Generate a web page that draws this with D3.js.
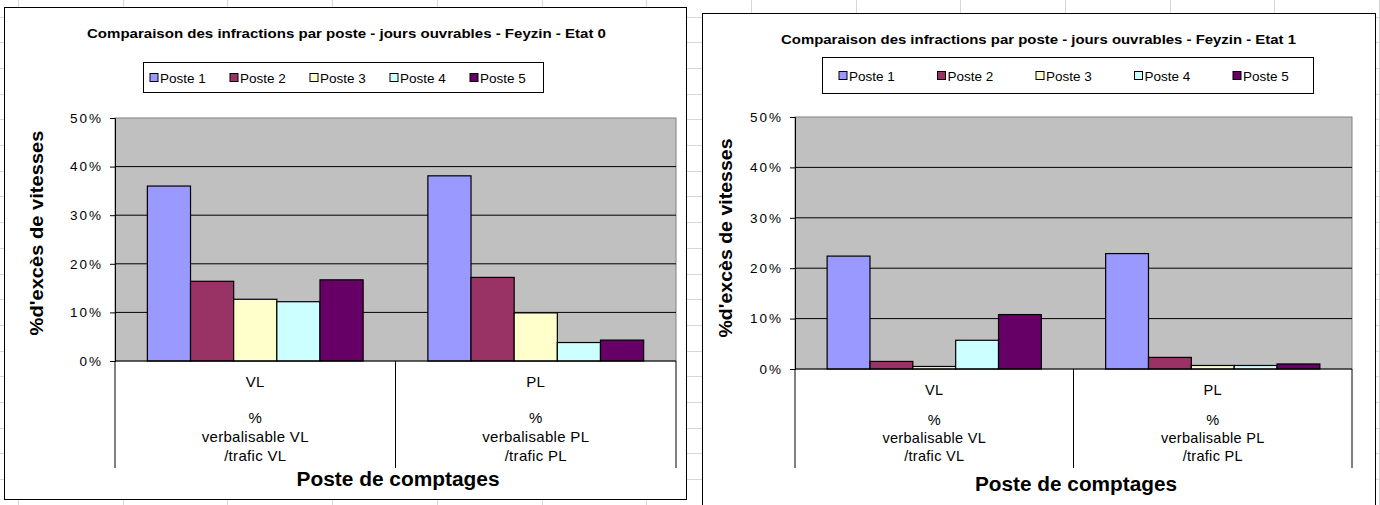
<!DOCTYPE html>
<html>
<head>
<meta charset="utf-8">
<script src="https://cdn.jsdelivr.net/npm/d3@7"></script>
<style>
  body { margin: 0; background: #fff; }
  svg { display: block; }
  text { font-family: Arial, "Liberation Sans", sans-serif; fill: #000; }
</style>
</head>
<body>
<svg id="sheet" width="1380" height="505"></svg>
<script>
// ---- data ----
const series = ["Poste 1", "Poste 2", "Poste 3", "Poste 4", "Poste 5"];
const categories = ["VL", "PL"];
const categoryNotes = [
  ["%", "verbalisable VL", "/trafic VL"],
  ["%", "verbalisable PL", "/trafic PL"]
];
const yTicks = [0, 10, 20, 30, 40, 50];
const titles = [
  "Comparaison des infractions par poste - jours ouvrables - Feyzin - Etat 0",
  "Comparaison des infractions par poste - jours ouvrables - Feyzin - Etat 1"
];
const yTitle = "%d'excès de vitesses";
const xTitle = "Poste de comptages";

// share of speeding vehicles (%) per counting post
const etat0VL = [36.0, 16.4, 12.7, 12.2, 16.7];
const etat0PL = [38.1, 17.2, 9.9, 3.8, 4.3];
const etat1VL = [22.4, 1.5, 0.5, 5.7, 10.8];
const etat1PL = [22.9, 2.3, 0.7, 0.7, 1.0];

const colors = ["#9999FF", "#993366", "#FFFFCC", "#CCFFFF", "#660066"];

// ---- layout of the two chart objects on the sheet ----
const layouts = [
  {
    title: titles[0], data: [etat0VL, etat0PL],
    frame: { x: 4.5, y: 7.5, w: 682, h: 492 },
    titlePos: { cx: 346.5, y: 38, len: 519 },
    legend: { x: 143.5, y: 62.5, w: 400, h: 30, first: 154, step: 80, fs: 13.5 },
    plot: { l: 115, r: 676, t: 118, b: 361 },
    yTitlePos: { cx: 36, cy: 233, len: 205 },
    xTitlePos: { cx: 398, y: 486, len: 203 },
    catBottom: 468, catY: [387, 423, 442, 461], catFs: 15
  },
  {
    title: titles[1], data: [etat1VL, etat1PL],
    frame: { x: 702.5, y: 13.5, w: 673, h: 500 },
    titlePos: { cx: 1038.5, y: 44, len: 515 },
    legend: { x: 822.5, y: 57.5, w: 491, h: 36, first: 843, step: 98.5, fs: 13.5 },
    plot: { l: 795, r: 1352, t: 117, b: 369 },
    yTitlePos: { cx: 725, cy: 238, len: 199 },
    xTitlePos: { cx: 1076, y: 491, len: 202 },
    catBottom: 468, catY: [395, 425, 443, 461], catFs: 14.5
  }
];

const svg = d3.select("#sheet");

// spreadsheet cell grid behind the charts
const sheetGrid = svg.append("g").attr("stroke", "#d6d6d6").attr("stroke-width", 1)
  .attr("shape-rendering", "crispEdges");
sheetGrid.selectAll("line.h").data(d3.range(16.5, 505, 25.7)).join("line")
  .attr("x1", 0).attr("x2", 1380).attr("y1", d => Math.round(d) + 0.5).attr("y2", d => Math.round(d) + 0.5);
sheetGrid.selectAll("line.v").data(d3.range(18, 1380, 104.7)).join("line")
  .attr("y1", 0).attr("y2", 505).attr("x1", d => Math.round(d) + 0.5).attr("x2", d => Math.round(d) + 0.5);

layouts.forEach(L => drawChart(L));

function drawChart(L) {
  const g = svg.append("g");
  const P = L.plot;

  // chart object frame
  g.append("rect")
    .attr("x", L.frame.x).attr("y", L.frame.y).attr("width", L.frame.w).attr("height", L.frame.h)
    .attr("fill", "#fff").attr("stroke", "#000").attr("stroke-width", 1);

  // title
  g.append("text")
    .attr("x", L.titlePos.cx).attr("y", L.titlePos.y)
    .attr("text-anchor", "middle").attr("font-weight", "bold").attr("font-size", 13)
    .attr("textLength", L.titlePos.len).attr("lengthAdjust", "spacingAndGlyphs")
    .text(L.title);

  // legend
  const lg = g.append("g");
  lg.append("rect")
    .attr("x", L.legend.x).attr("y", L.legend.y).attr("width", L.legend.w).attr("height", L.legend.h)
    .attr("fill", "#fff").attr("stroke", "#000");
  const midY = L.legend.y + L.legend.h / 2;
  const items = lg.selectAll("g.item").data(series).join("g")
    .attr("transform", (d, i) => `translate(${L.legend.first + i * L.legend.step},${midY})`);
  items.append("rect")
    .attr("x", -4).attr("y", -4).attr("width", 8).attr("height", 8)
    .attr("fill", (d, i) => colors[i]).attr("stroke", "#000").attr("stroke-width", 1);
  items.append("text")
    .attr("x", 6).attr("y", 5)
    .attr("font-size", L.legend.fs)
    .text(d => d);

  // scales
  const x = d3.scaleBand().domain(categories).range([P.l, P.r]).paddingInner(0).paddingOuter(0);
  const xs = d3.scaleBand().domain(series).range([0, x.bandwidth()]).paddingInner(0).paddingOuter(0.75);
  const y = d3.scaleLinear().domain([0, 50]).range([P.b, P.t]);

  // plot area
  g.append("rect")
    .attr("x", P.l).attr("y", P.t).attr("width", P.r - P.l).attr("height", P.b - P.t)
    .attr("fill", "#C0C0C0").attr("stroke", "#808080").attr("stroke-width", 1);

  // major gridlines
  g.append("g").selectAll("line").data(yTicks.filter(t => t > 0 && t < 50)).join("line")
    .attr("x1", P.l).attr("x2", P.r)
    .attr("y1", d => y(d)).attr("y2", d => y(d))
    .attr("stroke", "#000").attr("stroke-width", 1);

  // bars
  categories.forEach((c, ci) => {
    g.append("g").selectAll("rect").data(L.data[ci]).join("rect")
      .attr("x", (d, i) => x(c) + xs(series[i]))
      .attr("width", xs.bandwidth())
      .attr("y", d => y(d))
      .attr("height", d => y(0) - y(d))
      .attr("fill", (d, i) => colors[i])
      .attr("stroke", "#000").attr("stroke-width", 1.2);
  });

  // value axis
  const ya = g.append("g").attr("transform", `translate(${P.l},0)`)
    .call(d3.axisLeft(y).tickValues(yTicks).tickFormat(d => d + "%").tickSize(5).tickPadding(7));
  ya.select(".domain").attr("stroke", "#000");
  ya.selectAll(".tick line").attr("stroke", "#000");
  ya.selectAll(".tick text")
    .attr("font-family", "Arial, 'Liberation Sans', sans-serif")
    .attr("font-size", 13.5).attr("letter-spacing", "2px").attr("fill", "#000");

  // category axis: baseline, separators and labels
  g.append("line").attr("x1", P.l).attr("x2", P.r).attr("y1", P.b).attr("y2", P.b).attr("stroke", "#000");
  g.append("g").selectAll("line").data([P.l, ...categories.map(c => x(c) + x.bandwidth())]).join("line")
    .attr("x1", d => d).attr("x2", d => d).attr("y1", P.b).attr("y2", L.catBottom)
    .attr("stroke", "#000");
  categories.forEach((c, ci) => {
    const cx = x(c) + x.bandwidth() / 2;
    const lines = [c, ...categoryNotes[ci]];
    g.append("g").selectAll("text").data(lines).join("text")
      .attr("x", cx).attr("y", (d, i) => L.catY[i])
      .attr("text-anchor", "middle").attr("font-size", L.catFs)
      .attr("letter-spacing", "0.3px")
      .text(d => d);
  });

  // axis titles
  g.append("text")
    .attr("transform", `translate(${L.yTitlePos.cx + 7},${L.yTitlePos.cy}) rotate(-90)`)
    .attr("text-anchor", "middle").attr("font-weight", "bold").attr("font-size", 19)
    .attr("textLength", L.yTitlePos.len).attr("lengthAdjust", "spacingAndGlyphs")
    .text(yTitle);
  g.append("text")
    .attr("x", L.xTitlePos.cx).attr("y", L.xTitlePos.y)
    .attr("text-anchor", "middle").attr("font-weight", "bold").attr("font-size", 20)
    .attr("textLength", L.xTitlePos.len).attr("lengthAdjust", "spacingAndGlyphs")
    .text(xTitle);
}
</script>
</body>
</html>
